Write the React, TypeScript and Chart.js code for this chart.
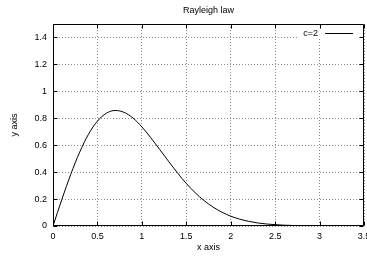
import React, { useEffect, useRef } from "react";
import { Chart, registerables } from "chart.js";

Chart.register(...registerables);

const titleText = "Rayleigh law";
const xTitle = "x axis";
const yTitle = "y axis";
const seriesLabel = "c=2";

// x positions
const xValues = [
  0, 0.1, 0.2, 0.3, 0.4, 0.5, 0.6, 0.7, 0.8, 0.9, 1.0, 1.1, 1.2, 1.3, 1.4, 1.5,
  1.6, 1.7, 1.8, 1.9, 2.0, 2.1, 2.2, 2.3, 2.4, 2.5, 2.6, 2.7, 2.8, 2.9, 3.0,
];
// density values
const yValues = [
  0, 0.198, 0.384, 0.548, 0.682, 0.779, 0.837, 0.858, 0.844, 0.802, 0.736,
  0.656, 0.569, 0.481, 0.395, 0.316, 0.247, 0.189, 0.141, 0.103, 0.073, 0.051,
  0.035, 0.023, 0.015, 0.010, 0.006, 0.004, 0.002, 0.001, 0.001,
];

const X_MIN = 0;
const X_MAX = 3.5;
const X_STEP = 0.5;
const Y_MIN = 0;
const Y_MAX = 1.5;
const Y_STEP = 0.2;

const FONT = "'Liberation Sans', Arial, Helvetica, sans-serif";

const fmt = (v: any) => String(Number(Number(v).toFixed(2)));

const framePlugin = {
  id: "gnuFrame",
  afterDatasetsDraw(chart: any) {
    const { ctx, chartArea: a, scales } = chart;
    const L = Math.round(a.left) + 0.5;
    const R = Math.round(a.right) - 0.5;
    const T = Math.round(a.top) + 0.5;
    const B = Math.round(a.bottom) - 0.5;
    ctx.save();
    // legend (key) with opaque background
    const boxLeft = a.right - 67;
    ctx.fillStyle = "#ffffff";
    ctx.fillRect(boxLeft, a.top, a.right - boxLeft, 14.5);
    ctx.fillStyle = "#000";
    ctx.font = `9px ${FONT}`;
    ctx.textAlign = "right";
    ctx.textBaseline = "middle";
    ctx.fillText(seriesLabel, a.right - 46, a.top + 9.5);
    ctx.strokeStyle = "#000";
    ctx.lineWidth = 1;
    ctx.beginPath();
    const ly = Math.round(a.top + 9) + 0.5;
    ctx.moveTo(a.right - 39, ly);
    ctx.lineTo(a.right - 11, ly);
    ctx.stroke();
    // border
    ctx.beginPath();
    ctx.rect(L, T, R - L, B - T);
    ctx.stroke();
    // inward ticks, mirrored
    const tl = 4;
    ctx.beginPath();
    scales.x.ticks.forEach((t: any) => {
      const px = Math.round(scales.x.getPixelForValue(t.value)) + 0.5;
      ctx.moveTo(px, B);
      ctx.lineTo(px, B - tl);
      ctx.moveTo(px, T);
      ctx.lineTo(px, T + tl);
    });
    scales.y.ticks.forEach((t: any) => {
      const py = Math.round(scales.y.getPixelForValue(t.value)) + 0.5;
      ctx.moveTo(L, py);
      ctx.lineTo(L + tl, py);
      ctx.moveTo(R, py);
      ctx.lineTo(R - tl, py);
    });
    ctx.stroke();
    ctx.restore();
  },
};

export default function App() {
  const ref = useRef<HTMLCanvasElement | null>(null);

  useEffect(() => {
    document.body.style.margin = "0";
    document.body.style.overflow = "hidden";
    const canvas = ref.current;
    if (!canvas) return;
    const points = xValues.map((x, i) => ({ x, y: yValues[i] }));
    const chart = new Chart(canvas, {
      type: "line",
      data: {
        datasets: [
          {
            label: seriesLabel,
            data: points,
            borderColor: "#000",
            borderWidth: 1,
            pointRadius: 0,
            fill: false,
            cubicInterpolationMode: "monotone",
          },
        ],
      },
      options: {
        responsive: false,
        animation: false,
        devicePixelRatio: 1,
        layout: { padding: { left: 0, right: 16, top: 0, bottom: 0 } },
        plugins: {
          legend: { display: false },
          tooltip: { enabled: false },
          title: {
            display: true,
            text: titleText,
            color: "#000",
            fullSize: false,
            font: { family: FONT, size: 9, weight: "normal" },
            padding: { top: 5.5, bottom: 7.7 },
          },
        },
        scales: {
          x: {
            type: "linear",
            min: X_MIN,
            max: X_MAX,
            border: { display: false, dash: [1, 2] },
            grid: {
              color: "#8c8c8c",
              lineWidth: 1,
              drawTicks: false,
            },
            ticks: {
              stepSize: X_STEP,
              color: "#000",
              padding: 5,
              maxRotation: 0,
              autoSkip: false,
              includeBounds: false,
              font: { family: FONT, size: 9 },
              callback: (v: any) => fmt(v),
            },
            title: {
              display: true,
              text: xTitle,
              color: "#000",
              font: { family: FONT, size: 9 },
              padding: { top: 0, bottom: 2.6 },
            },
            afterFit: (s: any) => {
              s.height = 30;
            },
          } as any,
          y: {
            type: "linear",
            min: Y_MIN,
            max: Y_MAX,
            border: { display: false, dash: [1, 2] },
            grid: {
              color: "#8c8c8c",
              lineWidth: 1,
              drawTicks: false,
            },
            ticks: {
              stepSize: Y_STEP,
              color: "#000",
              padding: 6,
              includeBounds: false,
              font: { family: FONT, size: 9 },
              callback: (v: any) => fmt(v),
            },
            title: {
              display: true,
              text: yTitle,
              color: "#000",
              font: { family: FONT, size: 9 },
              padding: { top: 9.6, bottom: 0 },
            },
            afterFit: (s: any) => {
              s.width = 53;
            },
          } as any,
        },
      },
      plugins: [framePlugin],
    });
    return () => chart.destroy();
  }, []);

  return (
    <div style={{ position: "fixed", left: 0, top: 0, width: 380, height: 256 }}>
      <canvas ref={ref} width={380} height={256} style={{ display: "block" }} />
    </div>
  );
}
